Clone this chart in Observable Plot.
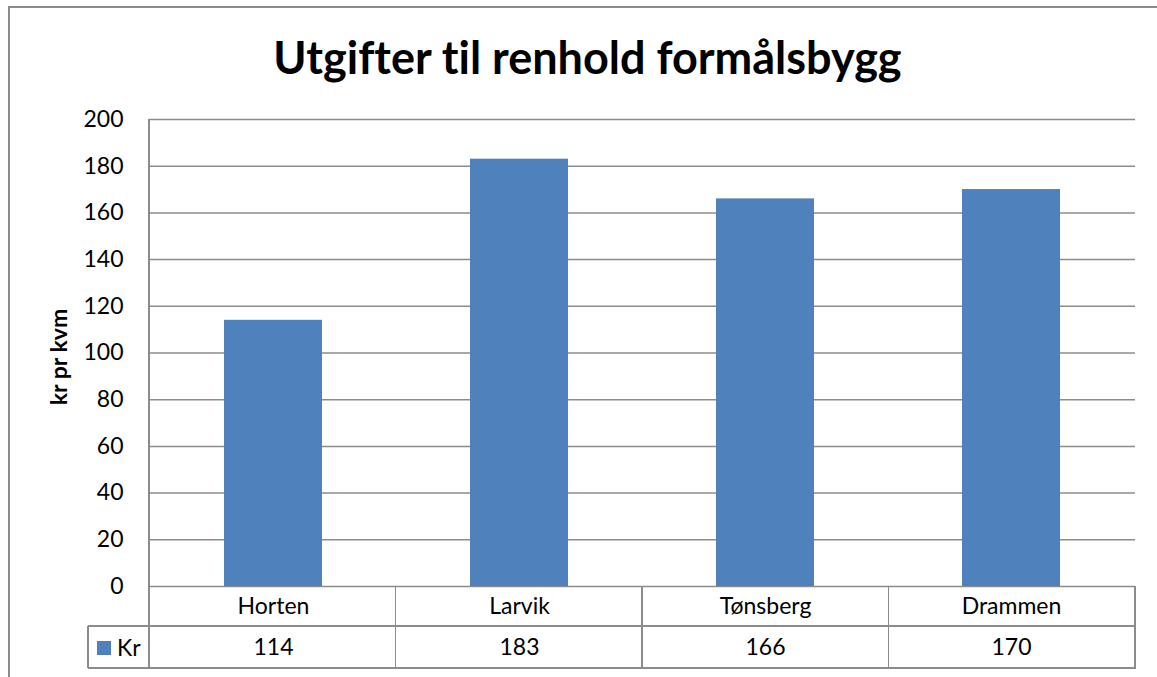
<!DOCTYPE html>
<html>
<head>
<meta charset="utf-8">
<script src="https://cdn.jsdelivr.net/npm/d3@7"></script>
<script src="https://cdn.jsdelivr.net/npm/@observablehq/plot@0.6"></script>
<style>
  body { margin: 0; background: #fff; font-family: Lato, "Open Sans", sans-serif; width: 1157px; height: 677px; overflow: hidden; position: relative; font-variant-ligatures: none; }
  #frame { position: absolute; left: 8px; top: 6px; width: 1300px; height: 800px; border: 2px solid #8c8c8c; box-sizing: border-box; }
  #title { position: absolute; left: 9px; top: 35px; width: 1157px; text-align: center; font-weight: bold; font-size: 45px; line-height: 45px; color: #000; font-variant-ligatures: none; }
  #chart { position: absolute; left: 0; top: 95px; }
  #ylabel { position: absolute; left: 58px; top: 357px; transform: translate(-50%, -50%) rotate(-90deg); font-weight: bold; font-size: 23px; white-space: nowrap; color: #000; }
  .ln { position: absolute; background: #8c8c8c; }
  #swatch { position: absolute; left: 97px; top: 641px; width: 14px; height: 14px; background: #4F81BD; }
  #kr { position: absolute; left: 117px; top: 633px; font-size: 23px; line-height: 28px; color: #000; }
</style>
</head>
<body>
<div id="frame"></div>
<div id="title">Utgifter til renhold formålsbygg</div>
<div id="chart"></div>
<div id="ylabel">kr pr kvm</div>
<div id="table"></div>
<div id="swatch"></div>
<div id="kr">Kr</div>
<script>
const cities = ["Horten", "Larvik", "Tønsberg", "Drammen"];
const values = [114, 183, 166, 170];
const yTicks = [0, 20, 40, 60, 80, 100, 120, 140, 160, 180, 200];
const seriesName = "Kr";

const data = cities.map((c, i) => ({city: c, value: values[i]}));

const W = 1157, H = 582;
const mL = 149, mR = 22, mT = 24, mB = 91;

const plot = Plot.plot({
  width: W,
  height: H,
  marginLeft: mL,
  marginRight: mR,
  marginTop: mT,
  marginBottom: mB,
  style: {fontFamily: "Lato, 'Open Sans', sans-serif", fontSize: "23px", color: "#000", background: "transparent"},
  x: {domain: cities, paddingInner: 0.6, paddingOuter: 0.3, axis: null},
  y: {domain: [0, 200], ticks: yTicks, tickSize: 0, tickPadding: 26, label: null, tickFormat: d3.format("d")},
  marks: [
    Plot.ruleY(yTicks, {stroke: "#8c8c8c", strokeWidth: 1.5}),
    Plot.barY(data, {x: "city", y: "value", fill: "#4F81BD"}),
    Plot.text(data, {x: "city", text: "city", frameAnchor: "bottom", lineAnchor: "middle", dy: 20, fill: "#000"}),
    Plot.text(data, {x: "city", text: d => String(d.value), frameAnchor: "bottom", lineAnchor: "middle", dy: 61, fill: "#000"})
  ]
});
document.getElementById("chart").appendChild(plot);

// table grid lines (layout only)
const top0 = 95;
const xL = mL, xR = W - mR;
const yBase = top0 + H - mB;      // 586
const yRow = yBase + 40;          // 626
const yEnd = yRow + 42;           // 668
const step = (xR - xL) / cities.length;
const tbl = document.getElementById("table");
function line(x, y, w, h) {
  const d = document.createElement("div");
  d.className = "ln";
  d.style.left = x + "px"; d.style.top = y + "px";
  d.style.width = w + "px"; d.style.height = h + "px";
  tbl.appendChild(d);
}
// left axis line
line(xL - 1, top0 + mT, 1.5, yEnd - (top0 + mT) + 1);
// column boundaries
for (let i = 1; i <= cities.length; i++) line(xL + step * i - 1, yBase, 1.5, yEnd - yBase + 1);
// horizontal lines
line(88, yRow - 0.75, xR - 88, 1.5);
line(88, yEnd - 0.75, xR - 88, 1.5);
// legend cell left
line(88 - 1, yRow, 1.5, yEnd - yRow);
</script>
</body>
</html>
